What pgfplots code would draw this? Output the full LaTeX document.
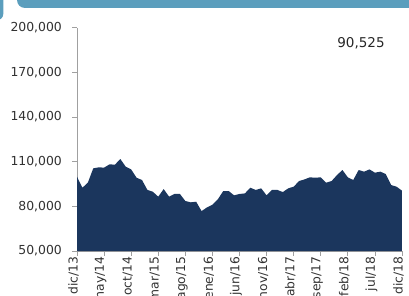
\documentclass[border=0pt]{standalone}
\usepackage{fontspec}
\setmainfont{DejaVu Sans}
\usepackage{pgfplots}
\pgfplotsset{compat=1.18}
\definecolor{areafill}{RGB}{27,54,93}
\definecolor{banner}{RGB}{91,158,189}
\definecolor{axgray}{RGB}{160,160,160}
\definecolor{lblgray}{RGB}{50,50,50}
\begin{document}
\begin{tikzpicture}
\useasboundingbox (0pt,0pt) rectangle (409pt,295pt);
\clip (0pt,0pt) rectangle (409pt,295pt);
\fill[banner, rounded corners=8pt] (17pt,287pt) rectangle (430pt,320pt);
\fill[banner, rounded corners=6pt] (-20pt,275pt) rectangle (3.3pt,320pt);
\begin{axis}[
  at={(77pt,44pt)}, anchor=south west,
  scale only axis, width=325pt, height=223.3pt,
  xmin=0, xmax=60, ymin=50000, ymax=200000,
  axis x line=bottom, axis y line=left,
  axis line style={-, axgray, line width=0.8pt},
  tick align=outside, tick style={axgray, line width=0.8pt},
  major tick length=4.5pt,
  xtick={0,5,...,60},
  xticklabels={dic/13,may/14,oct/14,mar/15,ago/15,ene/16,jun/16,nov/16,abr/17,sep/17,feb/18,jul/18,dic/18},
  xticklabel style={xshift=-3.5pt, rotate=90, anchor=east, font=\fontsize{12.3}{14}\selectfont, text=lblgray, inner sep=1pt},
  ytick={50000,80000,110000,140000,170000,200000},
  yticklabel style={font=\fontsize{12.4}{14}\selectfont, text=lblgray, inner sep=1pt, xshift=-9.5pt},
  scaled y ticks=false,
  /pgf/number format/.cd, fixed, 1000 sep={,}, assume math mode=true,
]
\addplot[fill=areafill, draw=none] coordinates {
(0,99900) (1,92500) (2,95900) (3,105500) (4,106200) (5,106000) (6,108200) (7,108000) (8,111800) (9,106600)
(10,104800) (11,99200) (12,97700) (13,91000) (14,89800) (15,86500) (16,91600) (17,86500) (18,88300) (19,88300)
(20,83600) (21,82700) (22,83100) (23,76800) (24,79300) (25,81100) (26,84700) (27,90300) (28,90300) (29,87400)
(30,88300) (31,88700) (32,92500) (33,91000) (34,92100) (35,87400) (36,91000) (37,91000) (38,89600) (39,92100)
(40,93200) (41,97000) (42,98100) (43,99500) (44,99200) (45,99500) (46,95900) (47,97000) (48,101000) (49,104400)
(50,99500) (51,97700) (52,104400) (53,103300) (54,104800) (55,102600) (56,103300) (57,101700) (58,94300) (59,93200)
(60,90525)
} \closedcycle;
\end{axis}
\node[font=\fontsize{13.5}{16}\selectfont, text=black!85] at (361pt,252pt) {90,525};
\end{tikzpicture}
\end{document}
